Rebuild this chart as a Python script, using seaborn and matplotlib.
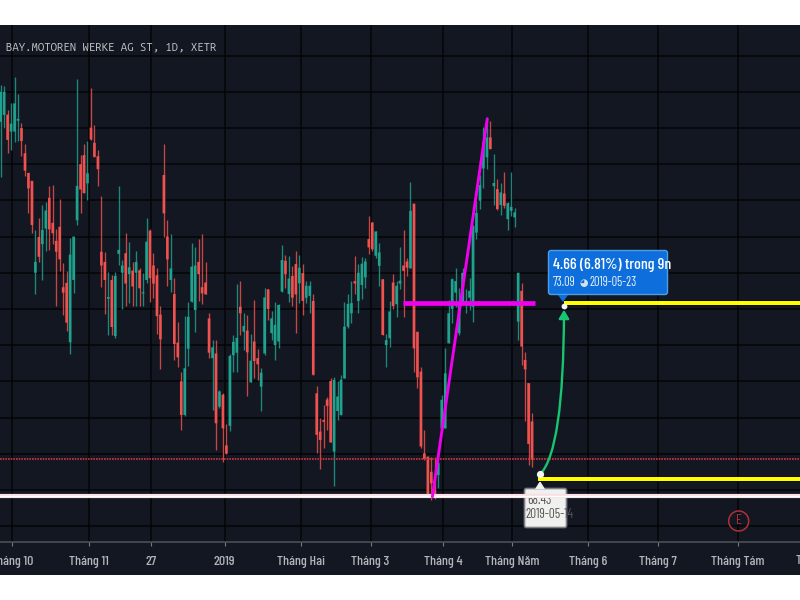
import numpy as np
import pandas as pd
import seaborn as sns
import matplotlib
matplotlib.use("Agg")
import matplotlib.pyplot as plt
from matplotlib.patches import FancyBboxPatch, FancyArrowPatch, Polygon, Circle, Rectangle
from matplotlib.transforms import Affine2D
from matplotlib import patheffects as pe

# Daily session prices, one row of ten per line
opens = [
    78.17, 78.36, 78.37, 77.9, 77.9, 78.2, 78.0, 77.3, 76.76, 76.54,
    74.0, 74.99, 74.79, 75.22, 76.07, 75.38, 74.88, 75.27, 73.6, 73.72,
    72.08, 73.8, 75.45, 77.0, 77.25, 76.47, 78.01, 77.59, 77.22, 74.58,
    74.3, 73.28, 73.8, 72.25, 74.52, 74.0, 74.54, 73.96, 74.06, 74.0,
    74.07, 73.43, 73.8, 75.16, 74.2, 73.93, 72.84, 76.7, 75.0, 73.8,
    73.41, 72.07, 71.0, 70.07, 71.9, 73.2, 72.97, 74.3, 73.6, 73.73,
    72.74, 71.64, 71.77, 70.3, 70.63, 69.23, 69.77, 71.72, 71.79, 73.06,
    72.37, 72.4, 70.97, 72.1, 71.64, 70.85, 71.77, 73.54, 72.33, 72.0,
    72.1, 73.48, 74.33, 73.41, 73.91, 74.24, 73.71, 73.99, 73.31, 73.36,
    73.22, 70.67, 69.61, 69.93, 70.5, 71.01, 69.06, 70.18, 70.07, 71.08,
    72.51, 72.88, 73.77, 73.22, 73.66, 73.87, 74.93, 75.39, 74.47, 74.19,
    73.82, 72.0, 72.19, 73.73, 73.13, 73.7, 74.2, 74.31, 74.12, 75.91,
    72.37, 71.27, 69.01, 68.92, 68.5, 68.0, 68.41, 69.7, 69.7, 72.05,
    73.0, 73.45, 72.33, 73.2, 73.13, 73.31, 73.06, 75.11, 75.99, 76.88,
    77.19, 77.74, 76.39, 76.31, 75.87, 76.19, 75.48, 75.71, 75.53, 72.65,
    73.5, 71.59, 70.95, 69.89,
]
closes = [
    79.0, 79.0, 77.67, 78.12, 78.68, 78.25, 77.64, 76.82, 76.33, 75.32,
    74.3, 74.44, 75.18, 75.72, 75.2, 75.09, 74.58, 74.37, 73.45, 72.62,
    74.5, 75.0, 76.4, 76.3, 76.2, 76.75, 77.68, 77.2, 76.86, 74.2,
    73.8, 73.33, 72.5, 73.91, 74.63, 74.2, 73.7, 74.15, 73.62, 74.3,
    73.57, 73.46, 74.86, 73.85, 73.7, 72.8, 72.16, 75.64, 74.37, 74.12,
    72.03, 71.66, 70.07, 71.36, 72.78, 74.17, 74.2, 73.96, 73.43, 73.4,
    71.79, 71.94, 69.84, 70.72, 69.7, 69.0, 71.7, 72.09, 72.2, 72.88,
    72.53, 71.8, 71.57, 71.56, 71.47, 71.24, 73.32, 73.0, 72.74, 72.56,
    73.11, 74.35, 73.96, 73.84, 73.31, 73.4, 74.14, 73.22, 73.64, 73.64,
    71.18, 69.52, 69.38, 69.88, 70.32, 69.31, 71.04, 70.58, 71.04, 72.51,
    73.14, 73.16, 73.7, 74.0, 74.25, 74.31, 74.7, 74.65, 75.14, 74.56,
    72.28, 72.14, 72.93, 73.08, 73.64, 73.78, 74.05, 74.14, 75.71, 71.91,
    71.11, 69.2, 68.85, 67.86, 68.18, 67.85, 68.74, 70.49, 71.22, 72.88,
    73.82, 73.77, 73.2, 74.0, 73.22, 73.5, 75.3, 75.65, 76.42, 77.6,
    77.74, 77.42, 76.48, 75.76, 76.22, 75.85, 75.92, 75.82, 75.67, 74.0,
    71.96, 71.33, 69.27, 68.83,
]
highs = [
    79.2, 79.15, 78.5, 78.68, 79.4, 78.93, 78.13, 77.55, 76.76, 76.54,
    75.18, 75.5, 75.87, 75.95, 76.4, 76.43, 75.2, 76.03, 74.26, 74.05,
    74.95, 75.0, 79.34, 77.25, 77.57, 77.65, 79.1, 78.08, 77.39, 76.13,
    74.58, 74.03, 73.93, 74.03, 76.4, 74.35, 75.1, 74.84, 74.3, 74.6,
    74.12, 74.0, 75.5, 75.22, 74.54, 74.12, 73.07, 77.55, 75.46, 75.06,
    73.85, 72.65, 71.27, 72.8, 73.2, 74.83, 74.72, 74.92, 75.06, 74.3,
    72.9, 72.15, 72.14, 70.75, 70.67, 69.82, 71.76, 72.28, 73.68, 73.77,
    72.88, 72.83, 72.3, 73.25, 71.9, 71.36, 73.58, 73.56, 72.93, 73.2,
    73.13, 74.76, 74.49, 74.47, 74.19, 74.6, 74.49, 74.25, 73.77, 73.77,
    73.41, 70.87, 69.98, 70.35, 70.58, 71.1, 71.13, 71.01, 71.18, 73.2,
    73.41, 73.77, 74.47, 74.25, 74.44, 74.42, 75.56, 75.41, 75.16, 74.82,
    73.82, 72.3, 73.22, 73.96, 73.77, 74.72, 75.18, 74.42, 76.51, 75.91,
    72.37, 71.4, 69.66, 68.92, 68.92, 68.92, 69.01, 70.63, 71.91, 73.25,
    73.85, 74.14, 73.59, 74.14, 73.54, 73.85, 75.3, 75.99, 76.7, 78.02,
    78.3, 78.18, 77.28, 76.59, 76.48, 76.77, 75.95, 76.77, 75.8, 74.0,
    73.73, 71.82, 70.95, 70.12,
]
lows = [
    76.65, 78.0, 77.3, 77.4, 77.62, 77.65, 77.22, 76.68, 75.66, 75.09,
    73.41, 74.3, 73.8, 74.6, 74.63, 74.8, 73.07, 74.06, 72.83, 72.4,
    71.75, 73.43, 75.33, 75.64, 76.2, 76.0, 77.68, 77.2, 76.4, 73.6,
    72.86, 72.28, 72.28, 72.19, 74.2, 73.0, 73.07, 73.16, 73.07, 73.07,
    73.07, 73.07, 73.73, 73.2, 73.29, 72.3, 71.33, 75.0, 73.62, 73.48,
    71.6, 71.4, 69.66, 70.05, 71.43, 73.2, 72.37, 73.23, 73.13, 73.4,
    71.64, 70.21, 69.1, 70.25, 68.78, 69.0, 69.64, 71.26, 71.26, 72.28,
    71.87, 70.6, 70.97, 71.08, 71.03, 70.17, 71.73, 72.7, 72.14, 71.6,
    71.91, 73.48, 73.59, 73.2, 73.08, 72.33, 73.16, 72.83, 73.16, 72.88,
    71.18, 69.01, 68.57, 69.15, 69.66, 69.31, 68.11, 69.93, 70.07, 71.08,
    72.47, 72.6, 73.41, 72.9, 73.27, 73.59, 74.51, 74.6, 74.42, 73.64,
    72.28, 71.4, 71.96, 73.0, 72.79, 73.55, 72.79, 73.91, 74.12, 71.27,
    70.81, 69.15, 68.83, 67.86, 67.72, 67.74, 68.05, 69.7, 69.7, 72.05,
    72.6, 73.05, 72.28, 73.15, 72.9, 72.97, 72.65, 74.93, 75.76, 76.34,
    76.87, 77.42, 75.88, 75.74, 75.59, 75.78, 75.19, 75.57, 75.25, 72.14,
    71.45, 69.89, 68.69, 68.64,
]

# Month ticks on the session axis
tick_positions = [3.4, 25.3, 43.4, 64.5, 86.4, 106.5, 127.5, 147.3, 169.2, 189.3, 212.2]
tick_labels = ["Tháng 10", "Tháng 11", "27", "2019", "Tháng Hai", "Tháng 3", "Tháng 4",
               "Tháng Năm", "Tháng 6", "Tháng 7", "Tháng Tám"]

# Drawn levels and measurements
support_level = 67.83
dotted_level = 68.86
magenta_level = 73.17
magenta_span = [115.8, 153.9]
trend_x = [124.3, 140.1]
trend_y = [67.81, 78.25]
measure_start = (155.3, 68.43)
measure_end = (162.2, 73.09)
yellow_low = 68.3
yellow_high = 73.16
yellow_low_start = 154.8
yellow_high_start = 162.3

BG = "#131722"
UP = "#1fa38f"
DOWN = "#f0524f"
NARROW = ["Barlow Condensed", "Roboto Condensed", "DejaVu Sans"]
MONO = ["Ubuntu Mono", "DejaVu Sans Mono"]

sns.set_theme(style="dark", rc={"axes.facecolor": BG, "savefig.facecolor": "white"})
plt.rcParams["font.family"] = NARROW

fig = plt.figure(figsize=(8, 6), dpi=100, facecolor="white")
fig.add_artist(Rectangle((0, 25 / 600), 1, 550 / 600, transform=fig.transFigure,
                         facecolor=BG, edgecolor="none", zorder=-5))
ax = fig.add_axes([0, 58 / 600, 1, 517 / 600])
ax.set_xlim(-0.19, 230.15)
ax.set_ylim(66.56, 80.845)
ax.set_yticks(np.arange(67, 81))
ax.set_xticks(tick_positions)
ax.grid(True, color="#050507", linewidth=1.1, zorder=0)
ax.tick_params(axis="y", left=False, labelleft=False)
ax.tick_params(axis="x", bottom=True, length=3, width=0.8, color="#777b84", pad=7)
ax.set_xticklabels(tick_labels, fontsize=10, color="#b4b6ba", family=NARROW, fontweight=500)
sns.despine(ax=ax, left=True, right=True, top=True)
ax.spines["bottom"].set_color("#4c4f57")
ax.spines["bottom"].set_linewidth(1.2)

# Candles: thin high-low wicks, then open-close bodies
prices = pd.DataFrame({"open": opens, "high": highs, "low": lows, "close": closes})
prices["session"] = np.arange(len(prices))
prices["colour"] = np.where(prices["close"] >= prices["open"], UP, DOWN)
ax.vlines(prices["session"], prices["low"], prices["high"], colors=prices["colour"],
          linewidth=0.95, alpha=0.82, zorder=3)
ax.bar(prices["session"], (prices["close"] - prices["open"]).abs(),
       bottom=prices[["open", "close"]].min(axis=1), width=0.76,
       color=prices["colour"], linewidth=0, zorder=4, snap=False)

# Pixel-space helper for callouts and their pointers
px = Affine2D().scale(1, -1).translate(0, 600)

# Lower measurement callout sits beneath the support line
ax.add_patch(FancyBboxPatch((526, 490), 39, 36, boxstyle="round,pad=1.5,rounding_size=2",
                            transform=px, facecolor="#f0f0ee", edgecolor="#7d7f85",
                            linewidth=1.2, zorder=6, clip_on=False))
ax.add_patch(Polygon([(535, 489), (540, 481), (545, 489)], closed=True, transform=px,
                     facecolor="#f0f0ee", edgecolor="none", zorder=6.1))
ax.text(527, 501, "68.43", transform=px, fontsize=9.5, color="#555555",
        ha="left", va="center", zorder=6.2)
ax.text(526, 515, "2019-05-14", transform=px, fontsize=9.5, color="#555555",
        ha="left", va="center", zorder=6.2)

# Horizontal levels
ax.axhline(dotted_level, color="#d0333f", linewidth=1.2, linestyle=(0, (1, 0.6)), zorder=5)
ax.axhline(support_level, color="#fbdde5", linewidth=3.0, zorder=7)
ax.axhline(support_level, color="#ffffff", linewidth=1.0, zorder=7.1)
for start, level in [(yellow_low_start, yellow_low), (yellow_high_start, yellow_high)]:
    ax.plot([start, 231], [level, level], color="#ffff00", linewidth=2.9, zorder=8,
            solid_capstyle="butt",
            path_effects=[pe.Stroke(linewidth=4.0, foreground="#0a0a06"), pe.Normal()])
ax.plot(magenta_span, [magenta_level, magenta_level], color="#f000f0", linewidth=3.4,
        solid_capstyle="butt", zorder=8)

# Rising trend line
sns.lineplot(x=trend_x, y=trend_y, ax=ax, color="#f000f0", linewidth=2.1,
             estimator=None, sort=False, legend=False, zorder=9)
ax.set_xlabel("")
ax.set_ylabel("")

# Green curved measurement arrow with its end dots
ax.add_patch(FancyArrowPatch(measure_start, measure_end,
                             connectionstyle="angle3,angleA=45,angleB=90",
                             arrowstyle="-|>,head_length=5,head_width=3",
                             color="#17c573", linewidth=1.7, shrinkA=0, shrinkB=3, zorder=9))
ax.plot(*measure_start, marker="o", markersize=5.2, color="#f4f4f2", zorder=10, markeredgewidth=0)
ax.plot(*measure_end, marker="o", markersize=4.2, color="#f4f4f2", zorder=10, markeredgewidth=0)

# Upper blue measurement label
ax.add_patch(FancyBboxPatch((550, 252), 116, 41, boxstyle="round,pad=1.5,rounding_size=2.5",
                            transform=px, facecolor="#0e6fdc", edgecolor="#4a9fe8",
                            linewidth=1.0, zorder=11, clip_on=False))
ax.add_patch(Polygon([(558, 295), (563, 302), (568, 295)], closed=True, transform=px,
                     facecolor="#0e6fdc", edgecolor="none", zorder=11.1))
ax.text(553, 264.5, "4.66 (6.81%) trong 9n", transform=px, fontsize=11.5, color="white",
        ha="left", va="center", zorder=12, fontweight=500)
ax.text(553, 283, "73.09", transform=px, fontsize=9, color="#e8f1fb",
        ha="left", va="center", zorder=12)
ax.text(583.5, 283, "◕", transform=px, fontsize=7, color="#d8e2ea", family="DejaVu Sans",
        ha="center", va="center", zorder=12)
ax.text(589, 283, "2019-05-23", transform=px, fontsize=9, color="#e8f1fb",
        ha="left", va="center", zorder=12)

# Earnings marker
ax.add_patch(Circle((738.7, 521), 10, transform=px, facecolor="none",
                    edgecolor="#b03039", linewidth=1.1, zorder=6))
ax.text(738.7, 521, "E", transform=px, fontsize=10, color="#b03039",
        ha="center", va="center", zorder=6)

# Symbol caption and the partly visible next month label
ax.text(6, 47, "BAY.MOTOREN WERKE AG ST, 1D, XETR", transform=px, fontsize=8.2,
        family=MONO, color="#c4c6c9", ha="left", va="center", zorder=12)
ax.text(815, 561, "Tháng 9", transform=px, fontsize=10, color="#b4b6ba", fontweight=500,
        ha="center", va="center", clip_on=False, zorder=2)

fig.savefig("out.png", dpi=100, facecolor="white")
